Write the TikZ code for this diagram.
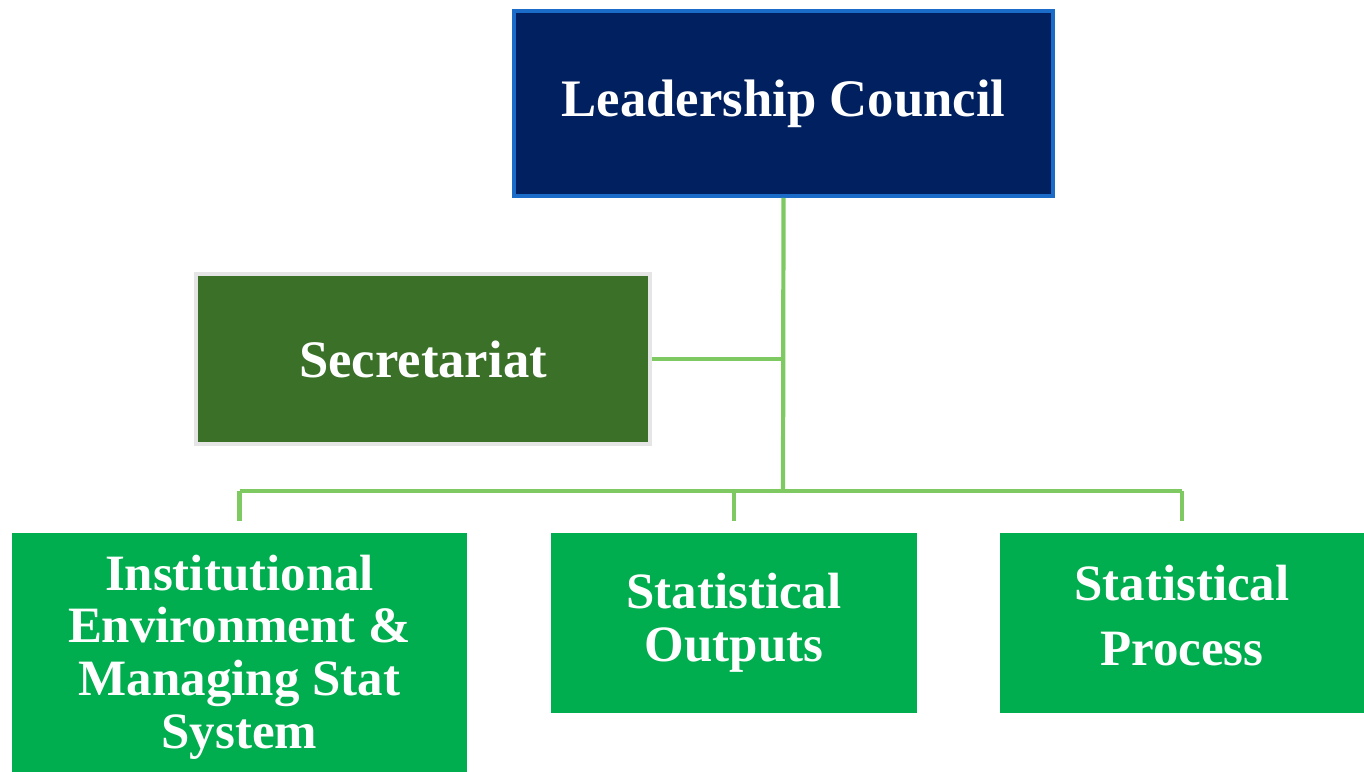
\documentclass[tikz,border=0pt]{standalone}
\usepackage{fontspec}
\setmainfont{Liberation Serif}
\usepackage{tikz}

\definecolor{navy}{HTML}{002060}
\definecolor{navyline}{HTML}{1A6CC8}
\definecolor{secgreen}{HTML}{3A7028}
\definecolor{secline}{HTML}{E5E5E5}
\definecolor{unitgreen}{HTML}{00AE4F}
\definecolor{linkgreen}{HTML}{7FC962}

\begin{document}
\begin{tikzpicture}[x=0.02cm,y=-0.02cm]
\tikzstyle{every node}+=[inner sep=0pt, text=white, align=center, font=\bfseries\fontsize{29}{30}\selectfont]
\tikzstyle{box}=[rectangle, line width=2.2pt]
\tikzstyle{link}=[draw=linkgreen, line width=2.4pt]
\useasboundingbox (0,0) rectangle (1364,771);
\clip (0,0) rectangle (1364,771);
\node [box, fill=navy, draw=navyline, minimum width=10.78cm, minimum height=3.7cm,
  font=\bfseries\fontsize{30}{34}\selectfont] (lc) at (783.5,103.5) {Leadership Council};
\node [box, fill=secgreen, draw=secline, minimum width=9.08cm, minimum height=3.4cm,
  font=\bfseries\fontsize{30}{34}\selectfont] (sec) at (423,359) {Secretariat};
\node [box, fill=unitgreen, minimum width=9.1cm, minimum height=4.96cm] (inst) at (239.5,657)
  {Institutional\\Environment \&\\Managing Stat\\System};
\node [box, fill=unitgreen, minimum width=7.32cm, minimum height=3.6cm] (out) at (734,623)
  {Statistical\\Outputs};
\node [box, fill=unitgreen, minimum width=7.28cm, minimum height=3.6cm,
  font=\bfseries\fontsize{29}{37}\selectfont] (proc) at (1182,623)
  {Statistical\\Process\rule[-3mm]{0pt}{0pt}};
\coordinate (bus) at (783,491);
\draw [link] (lc.south) -- (bus);
\draw [link] (sec.east) -- (sec.east -| bus);
\draw [link] (inst.north |- bus) -- (proc.north |- bus);
\draw [link, shorten >=6] (inst.north |- bus) -- (inst.north);
\draw [link, shorten >=6] (out.north |- bus) -- (out.north);
\draw [link, shorten >=6] (proc.north |- bus) -- (proc.north);
\end{tikzpicture}
\end{document}
